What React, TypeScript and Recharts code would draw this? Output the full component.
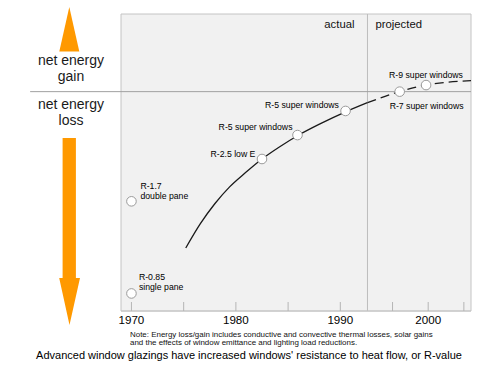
import React from 'react';
import { ComposedChart, Line, Scatter, XAxis, YAxis, ReferenceArea, ReferenceLine } from 'recharts';

// ---------- data ----------
const yearTicks = [1970, 1975, 1980, 1985, 1990, 1995, 2000, 2005];
const yearLabels = ['1970', '', '1980', '', '1990', '', '2000', ''];

const actualYears = [1975.2, 1976.6, 1978.0, 1979.4, 1980.9, 1982.5, 1984.2, 1985.9, 1988.1, 1990.5, 1992.6];
const actualValues = [-71.3, -60.2, -51.0, -43.4, -37.0, -30.7, -25.1, -20.1, -14.6, -9.2, -5.0];

const projectedYears = [1992.6, 1996.0, 1999.7, 2006.0];
const projectedValues = [-5.0, 0.0, 3.0, 5.0];

const glazingNames = [
  ['R-0.85', 'single pane'],
  ['R-1.7', 'double pane'],
  ['R-2.5 low E'],
  ['R-5 super windows'],
  ['R-5 super windows'],
  ['R-7 super windows'],
  ['R-9 super windows'],
];
const glazingYears = [1970, 1970, 1982.5, 1985.9, 1990.5, 1996.0, 1999.7];
const glazingValues = [-92, -50, -30.7, -19.8, -8.8, 0, 3.0];

const periodLabels = ['actual', 'projected'];
const projectionStart = 1992.6;
const leftLabels = [['net energy', 'gain'], ['net energy', 'loss']];
const noteLines = [
  'Note:  Energy loss/gain includes conductive and convective thermal losses, solar gains',
  'and the effects of window emittance and lighting load reductions.',
];
const caption = "Advanced window glazings have increased windows' resistance to heat flow, or R-value";

// ---------- styling (kept apart from the data) ----------
const FONT = '"Liberation Sans", Arial, Helvetica, sans-serif';
const ORANGE = '#FF9900';
const LABEL_SIZE = 8.7;
const labelPlacement = [
  { dx: 7.5, dy: -16.6, anchor: 'start' },
  { dx: 9, dy: -15.6, anchor: 'start' },
  { dx: -6.6, dy: -5.3, anchor: 'end' },
  { dx: -5, dy: -7.7, anchor: 'end' },
  { dx: -6.6, dy: -6, anchor: 'end' },
  { dx: -10, dy: 14.3, anchor: 'start' },
  { dx: -37, dy: -10.3, anchor: 'start' },
];

// ---------- tables for the library ----------
const actualData = actualYears.map((year, i) => ({ year, value: actualValues[i] }));
const projectedData = projectedYears.map((year, i) => ({ year, value: projectedValues[i] }));
const glazingData = glazingYears.map((year, i) => ({ year, value: glazingValues[i], idx: i }));

// Time axis: the projected part (after 1995) is drawn compressed.
const BREAK_YEAR = 1995;
const COMPRESS = 0.683;
const warp = (y: number) => (y <= BREAK_YEAR ? y : BREAK_YEAR + (y - BREAK_YEAR) * COMPRESS);
const unwarp = (v: number) => (v <= BREAK_YEAR ? v : BREAK_YEAR + (v - BREAK_YEAR) / COMPRESS);

function makeYearScale(dom: number[] = [0, 1], rng: number[] = [0, 1]): any {
  const s: any = (value: any) => {
    const a = warp(dom[0]);
    const b = warp(dom[dom.length - 1]);
    const r0 = rng[0];
    const r1 = rng[rng.length - 1];
    if (b === a) return r0;
    return r0 + ((warp(Number(value)) - a) / (b - a)) * (r1 - r0);
  };
  s.domain = (d?: any) => {
    if (d === undefined) return dom.slice();
    dom = Array.from(d as number[]).map(Number);
    return s;
  };
  s.range = (r?: any) => {
    if (r === undefined) return rng.slice();
    rng = Array.from(r as number[]).map(Number);
    return s;
  };
  s.rangeRound = (r: any) => s.range(r);
  s.copy = () => makeYearScale(dom.slice(), rng.slice());
  s.invert = (px: number) => {
    const a = warp(dom[0]);
    const b = warp(dom[dom.length - 1]);
    const r0 = rng[0];
    const r1 = rng[rng.length - 1];
    return unwarp(a + ((px - r0) / (r1 - r0)) * (b - a));
  };
  s.ticks = () => yearTicks.slice();
  s.tickFormat = () => (v: any) => String(v);
  s.nice = () => s;
  s.clamp = () => s;
  s.unknown = () => s;
  s.interpolate = () => s;
  return s;
}
const yearScale = makeYearScale();

const GlazingPoint = (props: any) => {
  const { cx, cy, payload } = props;
  if (cx == null || cy == null || !payload) return null;
  const i = payload.idx;
  const place = labelPlacement[i];
  const lines = glazingNames[i];
  return (
    <g>
      <circle cx={cx} cy={cy} r={4.8} fill="#ffffff" stroke="#9a9a9a" strokeWidth={1} />
      {lines.map((t, k) => (
        <text
          key={k}
          x={cx + place.dx}
          y={cy + place.dy + k * 10.2 + LABEL_SIZE * 0.35}
          textAnchor={place.anchor as any}
          fontSize={LABEL_SIZE}
          fontFamily={FONT}
          fill="#000"
        >
          {t}
        </text>
      ))}
    </g>
  );
};

export default function App() {
  return (
    <div style={{ position: 'absolute', left: 0, top: 0, width: 500, height: 379, background: '#ffffff', fontFamily: FONT }}>
      <ComposedChart width={500} height={379} margin={{ top: 14, right: 29, bottom: 48, left: 121 }}>
        <XAxis
          type="number"
          dataKey="year"
          domain={[1969, 2006]}
          scale={yearScale}
          ticks={yearTicks}
          tickFormatter={(v: number) => yearLabels[yearTicks.indexOf(v)] ?? ''}
          interval={0}
          height={20}
          tickSize={-9}
          tickMargin={13.5}
          axisLine={{ stroke: '#c4c4c4' }}
          tickLine={{ stroke: '#b5b5b5' }}
          tick={{ fontSize: 11.6, fill: '#000', fontFamily: FONT }}
          allowDataOverflow
        />
        <YAxis type="number" dataKey="value" domain={[-100, 35.4]} hide width={0} allowDataOverflow />
        <ReferenceArea
          x1={1969}
          x2={2006}
          y1={-100}
          y2={35.4}
          fill="#f1f1f1"
          fillOpacity={1}
          stroke="#c4c4c4"
          strokeWidth={1}
          ifOverflow="visible"
        />
        <ReferenceLine
          x={projectionStart}
          stroke="#bdbdbd"
          strokeWidth={1}
          label={(p: any) => {
            const vb = p.viewBox || {};
            return (
              <g>
                <text x={vb.x - 13} y={vb.y + 14} textAnchor="end" fontSize={11.3} fontFamily={FONT} fill="#111">
                  {periodLabels[0]}
                </text>
                <text x={vb.x + 8} y={vb.y + 14} textAnchor="start" fontSize={11.3} fontFamily={FONT} fill="#111">
                  {periodLabels[1]}
                </text>
              </g>
            );
          }}
        />
        <ReferenceLine
          segment={[{ x: 1960.3, y: 0 }, { x: 2006, y: 0 }]}
          stroke="#a0a0a0"
          strokeWidth={1}
          ifOverflow="visible"
        />
        <Line
          data={actualData}
          dataKey="value"
          type="monotone"
          stroke="#1a1a1a"
          strokeWidth={1.3}
          dot={false}
          activeDot={false}
          isAnimationActive={false}
        />
        <Line
          data={projectedData}
          dataKey="value"
          type="monotone"
          stroke="#1a1a1a"
          strokeWidth={1.3}
          strokeDasharray="9 5"
          dot={false}
          activeDot={false}
          isAnimationActive={false}
        />
        <Scatter data={glazingData} dataKey="value" shape={GlazingPoint} isAnimationActive={false} />
      </ComposedChart>

      <svg width={500} height={379} style={{ position: 'absolute', left: 0, top: 0, pointerEvents: 'none' }}>
        <polygon points="69.3,7 59.3,51.5 79.3,51.5" fill={ORANGE} />
        <polygon points="62.6,138 75.9,138 75.9,278 80,278 69.5,325 59.2,278 62.6,278" fill={ORANGE} />
        <text x={71} y={65.4} textAnchor="middle" fontSize={14} fontFamily={FONT} fill="#1a1a1a">{leftLabels[0][0]}</text>
        <text x={71} y={81} textAnchor="middle" fontSize={14} fontFamily={FONT} fill="#1a1a1a">{leftLabels[0][1]}</text>
        <text x={71} y={109} textAnchor="middle" fontSize={14} fontFamily={FONT} fill="#1a1a1a">{leftLabels[1][0]}</text>
        <text x={71} y={125} textAnchor="middle" fontSize={14} fontFamily={FONT} fill="#1a1a1a">{leftLabels[1][1]}</text>
        {noteLines.map((t, k) => (
          <text key={k} x={130} y={336.8 + k * 8.5} fontSize={7.95} fontFamily={FONT} fill="#111">{t}</text>
        ))}
        <text x={249} y={358.5} textAnchor="middle" fontSize={11} fontFamily={FONT} fill="#000">{caption}</text>
      </svg>
    </div>
  );
}
